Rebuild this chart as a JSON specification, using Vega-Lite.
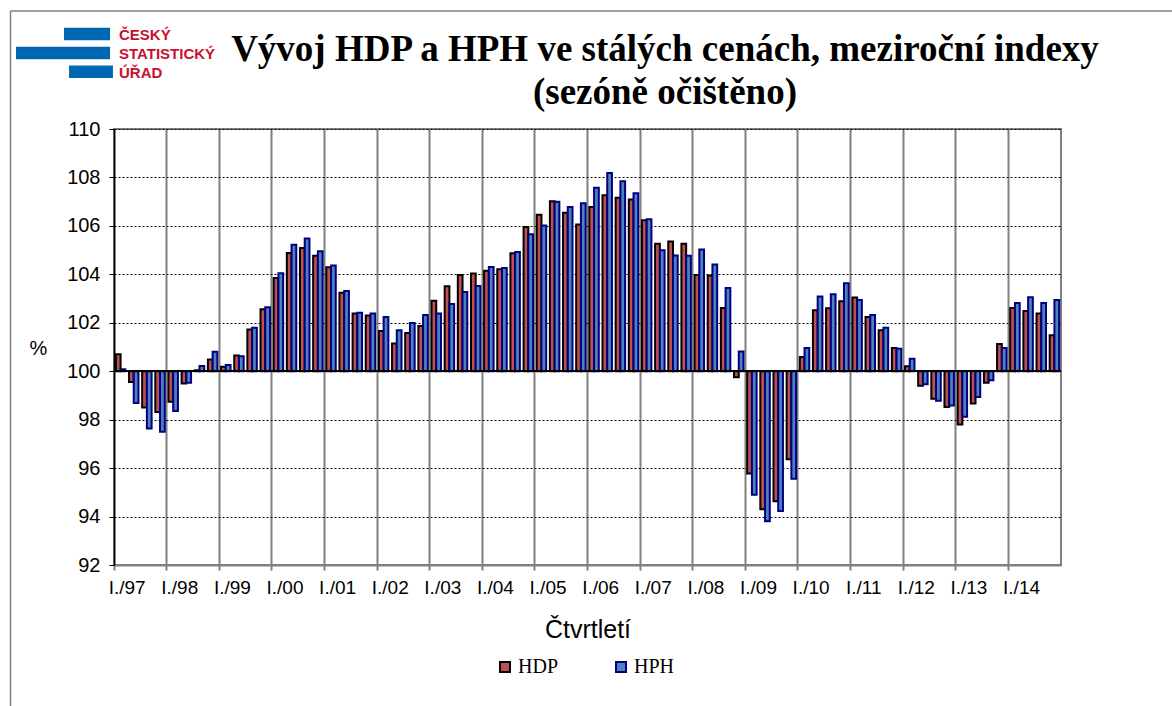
{
  "$schema": "https://vega.github.io/schema/vega-lite/v6.json",
  "width": 947,
  "height": 436,
  "autosize": {"type": "none"},
  "padding": {"left": 114, "top": 129, "right": 111, "bottom": 141},
  "background": "white",
  "config": {"view": {"stroke": "#808080", "strokeWidth": 2}},
  "resolve": {"scale": {"x": "independent", "y": "independent"}},
  "layer": [
    {
      "data": {
        "values": [
          {"q": "I./97", "HDP": 100.70, "HPH": 100.08},
          {"q": "II./97", "HDP": 99.56, "HPH": 98.69},
          {"q": "III./97", "HDP": 98.50, "HPH": 97.64},
          {"q": "IV./97", "HDP": 98.32, "HPH": 97.50},
          {"q": "I./98", "HDP": 98.74, "HPH": 98.36},
          {"q": "II./98", "HDP": 99.49, "HPH": 99.52},
          {"q": "III./98", "HDP": 100.04, "HPH": 100.22},
          {"q": "IV./98", "HDP": 100.48, "HPH": 100.80},
          {"q": "I./99", "HDP": 100.18, "HPH": 100.26},
          {"q": "II./99", "HDP": 100.65, "HPH": 100.62},
          {"q": "III./99", "HDP": 101.72, "HPH": 101.79},
          {"q": "IV./99", "HDP": 102.56, "HPH": 102.64},
          {"q": "I./00", "HDP": 103.85, "HPH": 104.04},
          {"q": "II./00", "HDP": 104.88, "HPH": 105.22},
          {"q": "III./00", "HDP": 105.09, "HPH": 105.48},
          {"q": "IV./00", "HDP": 104.77, "HPH": 104.95},
          {"q": "I./01", "HDP": 104.29, "HPH": 104.36},
          {"q": "II./01", "HDP": 103.24, "HPH": 103.31},
          {"q": "III./01", "HDP": 102.38, "HPH": 102.41},
          {"q": "IV./01", "HDP": 102.30, "HPH": 102.38},
          {"q": "I./02", "HDP": 101.66, "HPH": 102.24},
          {"q": "II./02", "HDP": 101.14, "HPH": 101.69},
          {"q": "III./02", "HDP": 101.58, "HPH": 101.99},
          {"q": "IV./02", "HDP": 101.87, "HPH": 102.32},
          {"q": "I./03", "HDP": 102.91, "HPH": 102.38},
          {"q": "II./03", "HDP": 103.51, "HPH": 102.78},
          {"q": "III./03", "HDP": 103.97, "HPH": 103.27},
          {"q": "IV./03", "HDP": 104.03, "HPH": 103.52},
          {"q": "I./04", "HDP": 104.15, "HPH": 104.30},
          {"q": "II./04", "HDP": 104.21, "HPH": 104.26},
          {"q": "III./04", "HDP": 104.87, "HPH": 104.92},
          {"q": "IV./04", "HDP": 105.95, "HPH": 105.65},
          {"q": "I./05", "HDP": 106.46, "HPH": 106.02},
          {"q": "II./05", "HDP": 107.02, "HPH": 107.00},
          {"q": "III./05", "HDP": 106.54, "HPH": 106.78},
          {"q": "IV./05", "HDP": 106.06, "HPH": 106.93},
          {"q": "I./06", "HDP": 106.78, "HPH": 107.57},
          {"q": "II./06", "HDP": 107.27, "HPH": 108.18},
          {"q": "III./06", "HDP": 107.16, "HPH": 107.84},
          {"q": "IV./06", "HDP": 107.09, "HPH": 107.35},
          {"q": "I./07", "HDP": 106.23, "HPH": 106.27},
          {"q": "II./07", "HDP": 105.26, "HPH": 104.99},
          {"q": "III./07", "HDP": 105.36, "HPH": 104.78},
          {"q": "IV./07", "HDP": 105.26, "HPH": 104.77},
          {"q": "I./08", "HDP": 103.97, "HPH": 105.03},
          {"q": "II./08", "HDP": 103.95, "HPH": 104.41},
          {"q": "III./08", "HDP": 102.61, "HPH": 103.44},
          {"q": "IV./08", "HDP": 99.75, "HPH": 100.81},
          {"q": "I./09", "HDP": 95.78, "HPH": 94.90},
          {"q": "II./09", "HDP": 94.30, "HPH": 93.81},
          {"q": "III./09", "HDP": 94.63, "HPH": 94.23},
          {"q": "IV./09", "HDP": 96.37, "HPH": 95.56},
          {"q": "I./10", "HDP": 100.59, "HPH": 100.96},
          {"q": "II./10", "HDP": 102.52, "HPH": 103.09},
          {"q": "III./10", "HDP": 102.60, "HPH": 103.18},
          {"q": "IV./10", "HDP": 102.89, "HPH": 103.63},
          {"q": "I./11", "HDP": 103.04, "HPH": 102.94},
          {"q": "II./11", "HDP": 102.24, "HPH": 102.32},
          {"q": "III./11", "HDP": 101.69, "HPH": 101.79},
          {"q": "IV./11", "HDP": 100.96, "HPH": 100.93},
          {"q": "I./12", "HDP": 100.21, "HPH": 100.51},
          {"q": "II./12", "HDP": 99.40, "HPH": 99.46},
          {"q": "III./12", "HDP": 98.86, "HPH": 98.78},
          {"q": "IV./12", "HDP": 98.52, "HPH": 98.58},
          {"q": "I./13", "HDP": 97.80, "HPH": 98.12},
          {"q": "II./13", "HDP": 98.67, "HPH": 98.94},
          {"q": "III./13", "HDP": 99.52, "HPH": 99.63},
          {"q": "IV./13", "HDP": 101.12, "HPH": 100.96},
          {"q": "I./14", "HDP": 102.61, "HPH": 102.82},
          {"q": "II./14", "HDP": 102.49, "HPH": 103.05},
          {"q": "III./14", "HDP": 102.38, "HPH": 102.82},
          {"q": "IV./14", "HDP": 101.48, "HPH": 102.94}
        ]
      },
      "transform": [{"fold": ["HDP", "HPH"], "as": ["series", "value"]}],
      "layer": [
        {
          "mark": {"type": "bar", "strokeWidth": 2},
          "encoding": {
            "x": {
              "field": "q",
              "type": "ordinal",
              "sort": null,
              "scale": {"paddingInner": 0.28, "paddingOuter": 0.14},
              "axis": {
                "title": "Čtvrtletí",
                "titleFont": "Liberation Sans",
                "titleFontSize": 25,
                "titleFontWeight": "normal",
                "titleColor": "black",
                "titleBaseline": "alphabetic",
                "titleY": 72,
                "values": ["I./97", "I./98", "I./99", "I./00", "I./01", "I./02", "I./03", "I./04", "I./05", "I./06", "I./07", "I./08", "I./09", "I./10", "I./11", "I./12", "I./13", "I./14"],
                "bandPosition": -0.194,
                "labelOffset": 6.58,
                "labelAngle": 0,
                "labelFont": "Liberation Sans",
                "labelFontSize": 19,
                "labelColor": "black",
                "labelPadding": 8,
                "labelBaseline": "top",
                "labelOverlap": false,
                "tickColor": "#808080",
                "tickSize": 5,
                "tickWidth": 2,
                "domainColor": "#808080",
                "domainWidth": 2,
                "grid": true,
                "gridColor": "#808080",
                "gridWidth": 2,
                "gridOpacity": 1
              }
            },
            "xOffset": {"field": "series", "type": "nominal", "scale": {"paddingInner": 0}},
            "y": {
              "field": "value",
              "type": "quantitative",
              "scale": {"domain": [92, 110], "zero": false, "nice": false},
              "axis": {
                "title": "%",
                "titleAngle": 0,
                "titleX": -76,
                "titleY": 219,
                "titleAlign": "center",
                "titleBaseline": "middle",
                "titleFont": "Liberation Sans",
                "titleFontSize": 20,
                "titleFontWeight": "normal",
                "titleColor": "black",
                "values": [92, 94, 96, 98, 100, 102, 104, 106, 108, 110],
                "labelFont": "Liberation Sans",
                "labelFontSize": 20,
                "labelColor": "black",
                "labelPadding": 9,
                "tickColor": "black",
                "tickSize": 5,
                "domainColor": "black",
                "domainWidth": 1.5,
                "grid": true,
                "gridColor": "black",
                "gridDash": [2, 2],
                "gridWidth": 1,
                "gridOpacity": 1
              }
            },
            "y2": {"datum": 100},
            "fill": {
              "field": "series",
              "type": "nominal",
              "scale": {"domain": ["HDP", "HPH"], "range": ["#c0504d", "#4f81bd"]},
              "legend": {
                "title": null,
                "orient": "none",
                "legendX": 381,
                "legendY": 528,
                "direction": "horizontal",
                "symbolType": "square",
                "symbolSize": 100,
                "symbolStrokeWidth": 2,
                "labelFont": "Liberation Serif",
                "labelFontSize": 20,
                "labelColor": "black",
                "labelOffset": 3,
                "columnPadding": 52
              }
            },
            "stroke": {
              "field": "series",
              "type": "nominal",
              "scale": {"domain": ["HDP", "HPH"], "range": ["#000000", "#000080"]},
              "legend": {
                "title": null,
                "orient": "none",
                "legendX": 381,
                "legendY": 528,
                "direction": "horizontal",
                "symbolType": "square",
                "symbolSize": 100,
                "symbolStrokeWidth": 2,
                "labelFont": "Liberation Serif",
                "labelFontSize": 20,
                "labelColor": "black",
                "labelOffset": 3,
                "columnPadding": 52
              }
            }
          }
        },
        {
          "mark": {"type": "rule", "color": "black", "strokeWidth": 1.5},
          "encoding": {"y": {"datum": 100}}
        }
      ]
    },
    {
      "data": {"values": [{}]},
      "layer": [
        {
          "mark": {"type": "rule", "color": "#0067b1", "strokeWidth": 12.5},
          "encoding": {
            "x": {"datum": -3.8, "type": "quantitative", "scale": {"domain": [0, 72], "nice": false, "zero": false}, "axis": null},
            "x2": {"datum": -0.3},
            "y": {"datum": 113.92, "type": "quantitative", "scale": {"domain": [92, 110], "nice": false, "zero": false}, "axis": null}
          }
        },
        {
          "mark": {"type": "rule", "color": "#0067b1", "strokeWidth": 12.5},
          "encoding": {
            "x": {"datum": -7.45, "type": "quantitative", "scale": {"domain": [0, 72], "nice": false, "zero": false}, "axis": null},
            "x2": {"datum": -0.3},
            "y": {"datum": 113.14, "type": "quantitative", "scale": {"domain": [92, 110], "nice": false, "zero": false}, "axis": null}
          }
        },
        {
          "mark": {"type": "rule", "color": "#0067b1", "strokeWidth": 12.5},
          "encoding": {
            "x": {"datum": -3.42, "type": "quantitative", "scale": {"domain": [0, 72], "nice": false, "zero": false}, "axis": null},
            "x2": {"datum": -0.08},
            "y": {"datum": 112.36, "type": "quantitative", "scale": {"domain": [92, 110], "nice": false, "zero": false}, "axis": null}
          }
        },
        {
          "mark": {"type": "text", "text": "ČESKÝ", "align": "left", "baseline": "alphabetic", "font": "Liberation Sans", "fontWeight": "bold", "fontSize": 15, "color": "#c8102e"},
          "encoding": {
            "x": {"datum": 0.38, "type": "quantitative", "scale": {"domain": [0, 72], "nice": false, "zero": false}, "axis": null},
            "y": {"datum": 113.68, "type": "quantitative", "scale": {"domain": [92, 110], "nice": false, "zero": false}, "axis": null}
          }
        },
        {
          "mark": {"type": "text", "text": "STATISTICKÝ", "align": "left", "baseline": "alphabetic", "font": "Liberation Sans", "fontWeight": "bold", "fontSize": 15, "color": "#c8102e"},
          "encoding": {
            "x": {"datum": 0.38, "type": "quantitative", "scale": {"domain": [0, 72], "nice": false, "zero": false}, "axis": null},
            "y": {"datum": 112.90, "type": "quantitative", "scale": {"domain": [92, 110], "nice": false, "zero": false}, "axis": null}
          }
        },
        {
          "mark": {"type": "text", "text": "ÚŘAD", "align": "left", "baseline": "alphabetic", "font": "Liberation Sans", "fontWeight": "bold", "fontSize": 15, "color": "#c8102e"},
          "encoding": {
            "x": {"datum": 0.38, "type": "quantitative", "scale": {"domain": [0, 72], "nice": false, "zero": false}, "axis": null},
            "y": {"datum": 112.11, "type": "quantitative", "scale": {"domain": [92, 110], "nice": false, "zero": false}, "axis": null}
          }
        },
        {
          "mark": {"type": "text", "text": "Vývoj HDP a HPH ve stálých cenách, meziroční indexy", "align": "center", "baseline": "alphabetic", "font": "Liberation Serif", "fontWeight": "bold", "fontSize": 37, "color": "black"},
          "encoding": {
            "x": {"datum": 41.89, "type": "quantitative", "scale": {"domain": [0, 72], "nice": false, "zero": false}, "axis": null},
            "y": {"datum": 112.82, "type": "quantitative", "scale": {"domain": [92, 110], "nice": false, "zero": false}, "axis": null}
          }
        },
        {
          "mark": {"type": "text", "text": "(sezóně očištěno)", "align": "center", "baseline": "alphabetic", "font": "Liberation Serif", "fontWeight": "bold", "fontSize": 37, "color": "black"},
          "encoding": {
            "x": {"datum": 41.89, "type": "quantitative", "scale": {"domain": [0, 72], "nice": false, "zero": false}, "axis": null},
            "y": {"datum": 111.05, "type": "quantitative", "scale": {"domain": [92, 110], "nice": false, "zero": false}, "axis": null}
          }
        },
        {
          "mark": {"type": "rule", "color": "#808080", "strokeWidth": 1.5},
          "encoding": {
            "x": {"datum": -7.87, "type": "quantitative", "scale": {"domain": [0, 72], "nice": false, "zero": false}, "axis": null},
            "y": {"datum": 85, "type": "quantitative", "scale": {"domain": [92, 110], "nice": false, "zero": false}, "axis": null},
            "y2": {"datum": 114.87}
          }
        },
        {
          "mark": {"type": "rule", "color": "#808080", "strokeWidth": 1.5},
          "encoding": {
            "x": {"datum": -7.87, "type": "quantitative", "scale": {"domain": [0, 72], "nice": false, "zero": false}, "axis": null},
            "x2": {"datum": 82},
            "y": {"datum": 114.87, "type": "quantitative", "scale": {"domain": [92, 110], "nice": false, "zero": false}, "axis": null}
          }
        }
      ]
    }
  ]
}
